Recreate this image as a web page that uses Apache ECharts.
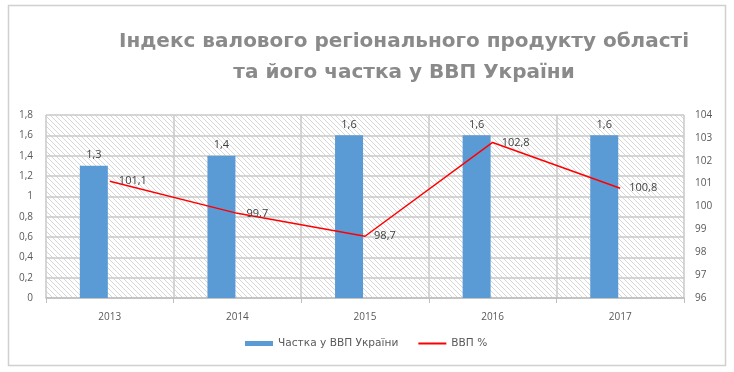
<!DOCTYPE html>
<html><head><meta charset="utf-8">
<script src="https://cdn.jsdelivr.net/npm/echarts@6/dist/echarts.min.js"></script>
<style>html,body{margin:0;padding:0;background:#fff}#c{width:734px;height:372px}</style>
</head><body><div id="c"></div>
<script>
const categories = ['2013','2014','2015','2016','2017'];
const shareValues = [1.3, 1.4, 1.6, 1.6, 1.6];
const grpValues = [101.1, 99.7, 98.7, 102.8, 100.8];
const leftTicks = {min:0, max:1.8, interval:0.2};
const rightTicks = {min:96, max:104, interval:1};

const pc = document.createElement('canvas');
pc.width = 5; pc.height = 5;
const g = pc.getContext('2d');
g.fillStyle = '#fff'; g.fillRect(0,0,5,5);
g.strokeStyle = '#d6d6d6'; g.lineWidth = 1;
g.beginPath();
g.moveTo(-1,-1); g.lineTo(6,6);
g.moveTo(-1,4); g.lineTo(1,6);
g.moveTo(4,-1); g.lineTo(6,1);
g.stroke();

const fmt = v => String(v).replace('.', ',');
const labelColor = '#595959';
const chart = echarts.init(document.getElementById('c'));
chart.setOption({
  animation:false,
  textStyle:{fontFamily:'Open Sans'},
  title:{
    text:'Індекс валового регіонального продукту області\nта його частка у ВВП України',
    left:399, top:21, textAlign:'center',
    textStyle:{fontFamily:'DejaVu Sans', fontSize:20, fontWeight:'bold', color:'#8a8a8a', lineHeight:31}
  },
  graphic:[{type:'rect', shape:{x:8.5,y:5.5,width:717,height:360}, style:{fill:'none', stroke:'#d0d0d0', lineWidth:1.5}, silent:true}],
  legend:{
    bottom:18, left:240, itemGap:20, itemWidth:28, itemHeight:5,
    textStyle:{fontSize:10.6, color:labelColor, fontFamily:'DejaVu Sans'},
    data:[{name:'Частка у ВВП України', icon:'rect'},{name:'ВВП %', icon:'path://M0,0L28,0L28,2L0,2Z'}]
  },
  grid:{left:46, right:50, top:115, bottom:74, show:true, borderWidth:0,
    backgroundColor:{image:pc, repeat:'repeat'}},
  xAxis:{type:'category', data:categories, boundaryGap:true,
    axisLine:{lineStyle:{color:'#bfbfbf', width:1.5}},
    axisTick:{show:true, length:5, lineStyle:{color:'#bfbfbf'}},
    splitLine:{show:true, lineStyle:{color:'#c8c8c8', width:1.5}},
    axisLabel:{color:labelColor, fontSize:10, margin:14}},
  yAxis:[
    {type:'value', min:leftTicks.min, max:leftTicks.max, interval:leftTicks.interval,
     axisLine:{show:false}, axisTick:{show:false},
     splitLine:{lineStyle:{color:'#c8c8c8', width:1.5}},
     axisLabel:{color:labelColor, fontSize:10, margin:13, formatter:v=>fmt(+v.toFixed(1))}},
    {type:'value', min:rightTicks.min, max:rightTicks.max, interval:rightTicks.interval, position:'right',
     axisLine:{show:false}, axisTick:{show:false}, splitLine:{show:false},
     axisLabel:{color:labelColor, fontSize:10, margin:11}}
  ],
  series:[
    {name:'Частка у ВВП України', type:'bar', data:shareValues, barWidth:28, barGap:'14%',
     itemStyle:{color:'#5b9bd5'},
     label:{show:true, position:'top', distance:5, color:'#404040', fontSize:11, formatter:p=>fmt(p.value)}},
    {name:'spacer', type:'bar', data:[null,null,null,null,null], barWidth:28, silent:true},
    {name:'ВВП %', type:'line', yAxisIndex:1, data:grpValues, showSymbol:true, symbol:'circle', symbolSize:0.1,
     lineStyle:{color:'#ff0000', width:1.5}, itemStyle:{color:'#ff0000'},
     label:{show:true, position:'right', distance:9, color:'#404040', fontSize:11, formatter:p=>fmt(p.value)}}
  ]
});
</script></body></html>
